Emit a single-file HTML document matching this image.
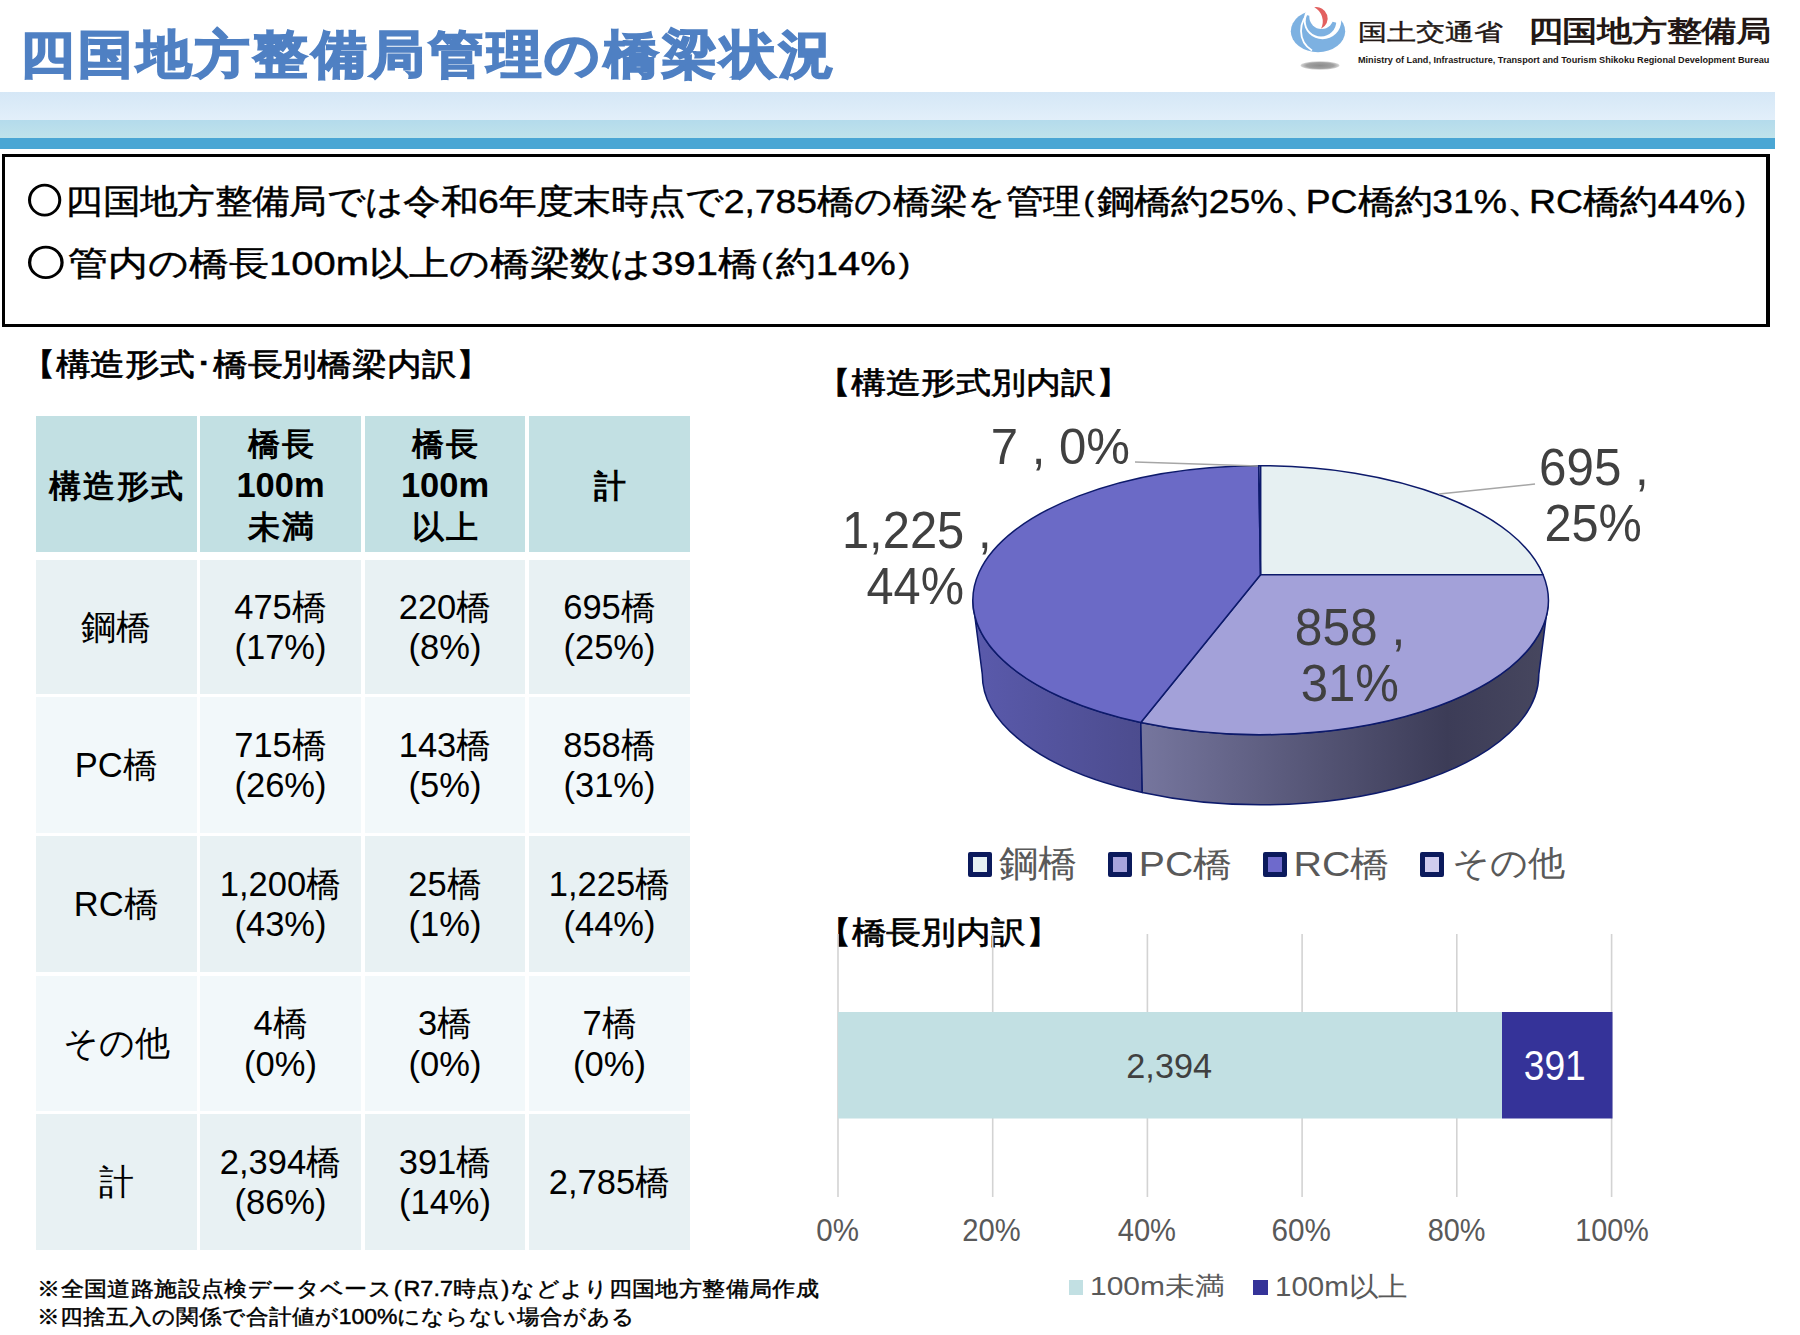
<!DOCTYPE html>
<html><head><meta charset="utf-8">
<style>
html,body{margin:0;padding:0;background:#fff;}
body{width:1800px;height:1335px;position:relative;overflow:hidden;font-family:"Liberation Sans",sans-serif;color:#000;}
.a{position:absolute;white-space:nowrap;line-height:1;}
.band1{position:absolute;left:0;top:92px;width:1775px;height:28px;background:linear-gradient(#d5e7f6,#e2effa);}
.band2{position:absolute;left:0;top:120px;width:1775px;height:18px;background:linear-gradient(#b4dbec,#c0e3eb);}
.band3{position:absolute;left:0;top:138px;width:1775px;height:11px;background:#4aa6d4;}
.box{position:absolute;left:2px;top:154px;width:1761px;height:167px;border:3px solid #000;border-right-width:4px;border-bottom-width:3.5px;}
.cell{position:absolute;text-align:center;}
.hd{background:#c2e0e3;}
.r1{background:#e8f1f3;}
.r2{background:#f2f8fa;}
.cell{display:flex;align-items:center;justify-content:center;}
.ct{font-size:34.5px;line-height:40.5px;text-align:center;white-space:nowrap;}
.hb{font-weight:bold;line-height:41px;position:relative;top:1.5px;}
.hj{font-size:31.5px;letter-spacing:2px;padding-left:2px;}
.mk{position:absolute;width:14px;height:15px;border:5.5px solid #0b1a5c;border-radius:2px;}
.lg{font-size:40px;color:#595959;}
.ax{font-size:29.3px;color:#595959;}
.lg2{font-size:29.3px;color:#595959;}
.fn{font-size:25px;-webkit-text-stroke:0.5px #000;}
.oc{display:inline-block;width:27px;height:30px;border:3.7px solid #000;border-radius:50%;margin:0 4px 0 1px;vertical-align:-4px;}
.pn{margin:0 3px;font-size:31px;position:relative;top:-2px;}
.pn2{margin:0 2px;}
.tc{display:inline-block;width:22px;overflow:hidden;vertical-align:top;}
.tx{position:absolute;white-space:nowrap;line-height:1;}
</style>

<style id="fit">
#mlit{transform-origin:0 0;transform:matrix(1.0391,0,0,0.8241,-0.48,4.32)}
#skk{transform-origin:0 0;transform:matrix(1.0233,0,0,0.8412,-2.49,4.00)}
#eng{transform-origin:0 0;transform:matrix(1.0733,0,0,1.0000,-1.07,1.00)}
#l1{transform-origin:0 0;transform:matrix(1.0088,0,0,0.9079,-0.01,2.70)}
#l2{transform-origin:0 0;transform:matrix(1.0811,0,0,0.9211,-0.08,2.80)}
#h1{transform-origin:0 0;transform:matrix(1.0542,0,0,0.9424,-19.08,2.40)}
#h2{transform-origin:0 0;transform:matrix(1.0603,0,0,0.9091,-19.71,2.50)}
#h3{transform-origin:0 0;transform:matrix(1.0539,0,0,0.9424,-19.08,2.30)}
#p7{transform-origin:0 0;transform:matrix(1.1165,0,0,1.1541,0.67,-3.92)}
#p695{transform-origin:0 0;transform:matrix(1.0277,0,0,1.0769,1.04,-0.64)}
#p25{transform-origin:0 0;transform:matrix(1.0140,0,0,1.0727,1.47,-1.01)}
#p1225{transform-origin:0 0;transform:matrix(1.0187,0,0,1.0923,-1.07,1.25)}
#p44{transform-origin:0 0;transform:matrix(1.0149,0,0,1.0848,1.49,-0.79)}
#p858{transform-origin:0 0;transform:matrix(1.0356,0,0,1.0872,0.83,1.49)}
#p31{transform-origin:0 0;transform:matrix(1.0226,0,0,1.0606,0.65,1.48)}
#lg1{transform-origin:0 0;transform:matrix(0.9740,0,0,0.9211,0.03,2.08)}
#lg2{transform-origin:0 0;transform:matrix(0.9791,0,0,0.8763,-1.24,2.82)}
#lg3{transform-origin:0 0;transform:matrix(0.9849,0,0,0.8763,-1.55,2.82)}
#lg4{transform-origin:0 0;transform:matrix(0.9339,0,0,0.8795,-1.10,1.94)}
#b2394{transform-origin:0 0;transform:matrix(0.9929,0,0,1.0241,-0.69,1.88)}
#b391{transform-origin:0 0;transform:matrix(0.9203,0,0,1.0607,-0.34,2.24)}
#ax0{transform-origin:0 0;transform:matrix(1.0075,0,0,1.0650,0.29,1.68)}
#ax20{transform-origin:0 0;transform:matrix(0.9947,0,0,1.0650,0.31,1.68)}
#ax40{transform-origin:0 0;transform:matrix(0.9947,0,0,1.0650,0.71,1.68)}
#ax60{transform-origin:0 0;transform:matrix(1.0125,0,0,1.0650,-0.53,1.68)}
#ax80{transform-origin:0 0;transform:matrix(0.9860,0,0,1.0650,0.71,1.68)}
#ax100{transform-origin:0 0;transform:matrix(0.9819,0,0,1.0650,1.34,1.68)}
#lgb1{transform-origin:0 0;transform:matrix(1.0236,0,0,0.8929,-0.05,3.11)}
#lgb2{transform-origin:0 0;transform:matrix(1.0078,0,0,0.9259,-0.02,3.07)}
#f1{transform-origin:0 0;transform:matrix(0.9360,0,0,0.8538,-0.81,3.80)}
#f2{transform-origin:0 0;transform:matrix(0.9191,0,0,0.8538,-0.76,2.60)}
</style>
</head><body>
<!-- Title -->
<div class="a" id="title" style="left:0;top:29px;width:900px;height:60px;font-size:51px;font-weight:bold;color:#4f80c3;-webkit-text-stroke:1.8px #4f80c3;"><span style="position:absolute;left:17.8px;top:0;width:58.4px;text-align:center;transform:scaleX(1.07);">四</span><span style="position:absolute;left:76.2px;top:0;width:58.4px;text-align:center;transform:scaleX(1.07);">国</span><span style="position:absolute;left:134.6px;top:0;width:58.4px;text-align:center;transform:scaleX(1.07);">地</span><span style="position:absolute;left:193.0px;top:0;width:58.4px;text-align:center;transform:scaleX(1.07);">方</span><span style="position:absolute;left:251.4px;top:0;width:58.4px;text-align:center;transform:scaleX(1.07);">整</span><span style="position:absolute;left:309.8px;top:0;width:58.4px;text-align:center;transform:scaleX(1.07);">備</span><span style="position:absolute;left:368.2px;top:0;width:58.4px;text-align:center;transform:scaleX(1.07);">局</span><span style="position:absolute;left:426.6px;top:0;width:58.4px;text-align:center;transform:scaleX(1.07);">管</span><span style="position:absolute;left:485.0px;top:0;width:58.4px;text-align:center;transform:scaleX(1.07);">理</span><span style="position:absolute;left:543.4px;top:0;width:58.4px;text-align:center;transform:scaleX(1.07);">の</span><span style="position:absolute;left:601.8px;top:0;width:58.4px;text-align:center;transform:scaleX(1.07);">橋</span><span style="position:absolute;left:660.2px;top:0;width:58.4px;text-align:center;transform:scaleX(1.07);">梁</span><span style="position:absolute;left:718.6px;top:0;width:58.4px;text-align:center;transform:scaleX(1.07);">状</span><span style="position:absolute;left:777.0px;top:0;width:58.4px;text-align:center;transform:scaleX(1.07);">況</span></div>

<!-- Logo -->
<svg style="position:absolute;left:1285px;top:0" width="70" height="75" viewBox="0 0 70 75">
  <defs><radialGradient id="gsh" cx="0.5" cy="0.5" r="0.5"><stop offset="0" stop-color="#8c8c8c"/><stop offset="0.7" stop-color="#a0a0a0"/><stop offset="1" stop-color="#d8d8d8"/></radialGradient>
  <clipPath id="cb"><polygon points="0,9.6 70,27.4 70,75 0,75"/></clipPath></defs>
  <ellipse cx="35" cy="65.5" rx="19.5" ry="4.2" fill="url(#gsh)"/>
  <ellipse cx="33" cy="31.2" rx="27.2" ry="21" fill="#7db1e1"/>
  <circle cx="37.5" cy="20.5" r="18.8" fill="#fff"/>
  <path d="M26.4 11.2 A23.5 23.5 0 0 0 27 50.6" stroke="#fff" stroke-width="1.8" fill="none"/>
  <g clip-path="url(#cb)"><circle cx="36" cy="21.2" r="15.3" fill="#7db1e1"/></g>
  <circle cx="36.5" cy="16.8" r="12.2" fill="#fff"/>
  <path d="M29.2 7.3 A11.3 11.3 0 0 1 36 28.7 A16 16 0 0 0 29.2 7.3 Z" fill="#e2605f"/>
</svg>
<div class="a" id="mlit" style="left:1358px;top:17px;font-size:28px;color:#231815;-webkit-text-stroke:0.5px #231815;">国土交通省</div>
<div class="a" id="skk" style="left:1530px;top:13px;font-size:34px;font-weight:bold;color:#231815;">四国地方整備局</div>
<div class="a" id="eng" style="left:1359px;top:55px;font-size:8.5px;font-weight:bold;color:#231815;">Ministry of Land, Infrastructure, Transport and Tourism Shikoku Regional Development Bureau</div>

<div class="band1"></div><div class="band2"></div><div class="band3"></div>
<div class="box"></div>
<div class="a" id="l1" style="left:27px;top:181px;font-size:37px;-webkit-text-stroke:0.45px #000;"><span class="oc"></span>四国地方整備局では令和6年度末時点で2,785橋の橋梁を管理<span class="pn">(</span>鋼橋約25%<span class="tc">、</span>PC橋約31%<span class="tc">、</span>RC橋約44%<span class="pn">)</span></div>
<div class="a" id="l2" style="left:27px;top:243px;font-size:37px;-webkit-text-stroke:0.45px #000;"><span class="oc"></span>管内の橋長100m以上の橋梁数は391橋<span class="pn">(</span>約14%<span class="pn">)</span></div>

<div class="a" id="h1" style="-webkit-text-stroke:0.7px #000;left:40px;top:346px;font-size:33px;">【構造形式･橋長別橋梁内訳】</div>

<!-- Table -->
<div id="table">
<div class="cell hd" style="left:35.5px;top:416px;width:161.5px;height:136px;"><div class="ct hb" id="c00"><span class="hj">構造形式</span></div></div>
<div class="cell hd" style="left:200px;top:416px;width:161.0px;height:136px;"><div class="ct hb" id="c01"><span class="hj">橋長</span><br>100m<br><span class="hj">未満</span></div></div>
<div class="cell hd" style="left:365px;top:416px;width:160.0px;height:136px;"><div class="ct hb" id="c02"><span class="hj">橋長</span><br>100m<br><span class="hj">以上</span></div></div>
<div class="cell hd" style="left:529px;top:416px;width:161.0px;height:136px;"><div class="ct hb" id="c03"><span class="hj">計</span></div></div>
<div class="cell r1" style="left:35.5px;top:560px;width:161.5px;height:134px;"><div class="ct" id="c10">鋼橋</div></div>
<div class="cell r1" style="left:200px;top:560px;width:161.0px;height:134px;"><div class="ct" id="c11">475橋<br>(17%)</div></div>
<div class="cell r1" style="left:365px;top:560px;width:160.0px;height:134px;"><div class="ct" id="c12">220橋<br>(8%)</div></div>
<div class="cell r1" style="left:529px;top:560px;width:161.0px;height:134px;"><div class="ct" id="c13">695橋<br>(25%)</div></div>
<div class="cell r2" style="left:35.5px;top:697px;width:161.5px;height:136px;"><div class="ct" id="c20">PC橋</div></div>
<div class="cell r2" style="left:200px;top:697px;width:161.0px;height:136px;"><div class="ct" id="c21">715橋<br>(26%)</div></div>
<div class="cell r2" style="left:365px;top:697px;width:160.0px;height:136px;"><div class="ct" id="c22">143橋<br>(5%)</div></div>
<div class="cell r2" style="left:529px;top:697px;width:161.0px;height:136px;"><div class="ct" id="c23">858橋<br>(31%)</div></div>
<div class="cell r1" style="left:35.5px;top:836px;width:161.5px;height:136px;"><div class="ct" id="c30">RC橋</div></div>
<div class="cell r1" style="left:200px;top:836px;width:161.0px;height:136px;"><div class="ct" id="c31">1,200橋<br>(43%)</div></div>
<div class="cell r1" style="left:365px;top:836px;width:160.0px;height:136px;"><div class="ct" id="c32">25橋<br>(1%)</div></div>
<div class="cell r1" style="left:529px;top:836px;width:161.0px;height:136px;"><div class="ct" id="c33">1,225橋<br>(44%)</div></div>
<div class="cell r2" style="left:35.5px;top:976px;width:161.5px;height:135px;"><div class="ct" id="c40">その他</div></div>
<div class="cell r2" style="left:200px;top:976px;width:161.0px;height:135px;"><div class="ct" id="c41">4橋<br>(0%)</div></div>
<div class="cell r2" style="left:365px;top:976px;width:160.0px;height:135px;"><div class="ct" id="c42">3橋<br>(0%)</div></div>
<div class="cell r2" style="left:529px;top:976px;width:161.0px;height:135px;"><div class="ct" id="c43">7橋<br>(0%)</div></div>
<div class="cell r1" style="left:35.5px;top:1114px;width:161.5px;height:136px;"><div class="ct" id="c50">計</div></div>
<div class="cell r1" style="left:200px;top:1114px;width:161.0px;height:136px;"><div class="ct" id="c51">2,394橋<br>(86%)</div></div>
<div class="cell r1" style="left:365px;top:1114px;width:160.0px;height:136px;"><div class="ct" id="c52">391橋<br>(14%)</div></div>
<div class="cell r1" style="left:529px;top:1114px;width:161.0px;height:136px;"><div class="ct" id="c53">2,785橋</div></div>
</div>

<div class="a" id="h2" style="-webkit-text-stroke:0.7px #000;left:836px;top:365px;font-size:33px;">【構造形式別内訳】</div>

<!-- Pie -->
<svg style="position:absolute;left:0;top:0" width="1800" height="1335" viewBox="0 0 1800 1335">
  <defs>
    <linearGradient id="gRC" x1="0" x2="1" y1="0" y2="0"><stop offset="0" stop-color="#5a5aac"/><stop offset="1" stop-color="#4c4c8e"/></linearGradient>
    <linearGradient id="gPC" gradientUnits="userSpaceOnUse" x1="1141" x2="1549" y1="0" y2="0"><stop offset="0" stop-color="#76769e"/><stop offset="0.75" stop-color="#3c3c57"/><stop offset="1" stop-color="#47475f"/></linearGradient>
  </defs>
  <g stroke="#0d1a6b" stroke-width="1.5" stroke-linejoin="round">
    <path d="M972.8 600.2 A287.75 134.5 0 0 0 1140.8 722.5 L1142.3 792.5 A278.25 130.06 0 0 1 982.3 674.4 Z" fill="url(#gRC)"/>
    <path d="M1140.8 722.5 A287.75 134.5 0 0 0 1548.3 600.2 L1538.8 674.4 A278.25 130.06 0 0 1 1142.3 792.5 Z" fill="url(#gPC)"/>
    <path d="M1260.5 574.7 L1260.5 465.7 A287.75 134.5 0 0 1 1543.08 574.7 Z" fill="#e6f0f2"/>
    <path d="M1260.5 574.7 L1543.08 574.7 A287.75 134.5 0 0 1 1140.8 722.5 Z" fill="#a3a1d9"/>
    <path d="M1260.5 574.7 L1140.8 722.5 A287.75 134.5 0 0 1 1258.7 465.71 Z" fill="#6b6ac6"/>
    <path d="M1260.5 574.7 L1258.7 465.71 A287.75 134.5 0 0 1 1260.5 465.7 Z" fill="#d0ccee"/>
  </g>
  <g stroke="#a6a6a6" stroke-width="1.5" fill="none">
    <path d="M1135 462 L1258 466"/>
    <path d="M1439 494 L1535 484"/>
  </g>
</svg>
<div class="a pl" style="left:990px;top:425px;font-size:44px;color:#404040;" id="p7">7 , 0%</div>

<div class="a pl" style="left:1538px;top:443px;font-size:48px;color:#404040;" id="p695">695 ,</div>
<div class="a pl" style="left:1543px;top:499px;font-size:48px;color:#404040;" id="p25">25%</div>
<div class="a pl" style="left:843px;top:503px;font-size:48px;color:#404040;" id="p1225">1,225 ,</div>
<div class="a pl" style="left:865px;top:561px;font-size:48px;color:#404040;" id="p44">44%</div>
<div class="a pl" style="left:1294px;top:600px;font-size:48px;color:#404040;" id="p858">858 ,</div>
<div class="a pl" style="left:1300px;top:657px;font-size:48px;color:#404040;" id="p31">31%</div>

<!-- pie legend -->
<div class="mk" style="left:967.5px;top:851.5px;background:#e6f0f2;"></div>
<div class="a lg" id="lg1" style="left:999px;top:843px;">鋼橋</div>
<div class="mk" style="left:1107.5px;top:851.5px;background:#a8a4dc;"></div>
<div class="a lg" id="lg2" style="left:1140px;top:843px;">PC橋</div>
<div class="mk" style="left:1263px;top:851.5px;background:#6e6acc;"></div>
<div class="a lg" id="lg3" style="left:1295px;top:843px;">RC橋</div>
<div class="mk" style="left:1420px;top:851.5px;background:#d0ccee;"></div>
<div class="a lg" id="lg4" style="left:1453px;top:843px;">その他</div>

<div class="a" id="h3" style="-webkit-text-stroke:0.7px #000;left:836px;top:914px;font-size:33px;">【橋長別内訳】</div>

<!-- bar chart -->
<svg style="position:absolute;left:0;top:0" width="1800" height="1335" viewBox="0 0 1800 1335">
  <g stroke="#d3d3d3" stroke-width="1.6">
    <line x1="838" y1="934" x2="838" y2="1197"/>
    <line x1="992.7" y1="934" x2="992.7" y2="1197"/>
    <line x1="1147.4" y1="934" x2="1147.4" y2="1197"/>
    <line x1="1302.1" y1="934" x2="1302.1" y2="1197"/>
    <line x1="1456.8" y1="934" x2="1456.8" y2="1197"/>
    <line x1="1611.6" y1="934" x2="1611.6" y2="1197"/>
  </g>
  <rect x="838" y="1012" width="664" height="106.5" fill="#c2e0e3"/>
  <rect x="1502" y="1012" width="110.5" height="106.5" fill="#353399"/>
</svg>
<div class="a" style="left:1127px;top:1046px;font-size:34.5px;color:#404040;" id="b2394">2,394</div>
<div class="a" style="left:1524px;top:1042px;font-size:40.5px;color:#fff;" id="b391">391</div>
<div class="a ax" id="ax0" style="left:816px;top:1213px;">0%</div>
<div class="a ax" id="ax20" style="left:962px;top:1213px;">20%</div>
<div class="a ax" id="ax40" style="left:1117px;top:1213px;">40%</div>
<div class="a ax" id="ax60" style="left:1272px;top:1213px;">60%</div>
<div class="a ax" id="ax80" style="left:1427px;top:1213px;">80%</div>
<div class="a ax" id="ax100" style="left:1574px;top:1213px;">100%</div>
<div style="position:absolute;left:1069px;top:1280px;width:14px;height:15px;background:#c2e0e3;"></div>
<div class="a lg2" id="lgb1" style="left:1090px;top:1270px;">100m未満</div>
<div style="position:absolute;left:1253px;top:1280px;width:15px;height:15px;background:#353399;"></div>
<div class="a lg2" id="lgb2" style="left:1275px;top:1270px;">100m以上</div>

<!-- footnotes -->
<div class="a fn" id="f1" style="left:38px;top:1274px;">※全国道路施設点検データベース<span class="pn2">(</span>R7.7時点<span class="pn2">)</span>などより四国地方整備局作成</div>
<div class="a fn" id="f2" style="left:38px;top:1303px;">※四捨五入の関係で合計値が100%にならない場合がある</div>

</body></html>
